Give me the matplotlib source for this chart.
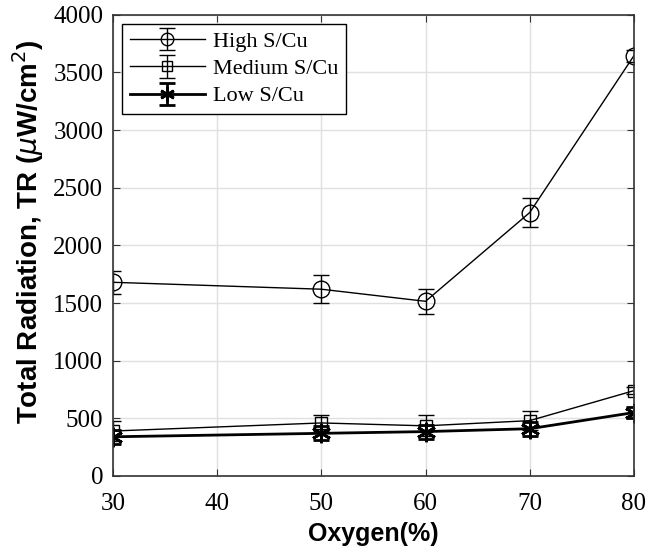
import matplotlib.pyplot as plt

# oxygen levels and total radiation (uW/cm^2)
oxygen = [30, 50, 60, 70, 80]
high = [1680, 1620, 1515, 2285, 3645]
high_err = [100, 120, 110, 125, 50]
medium = [390, 460, 435, 480, 740]
medium_err = [90, 70, 90, 80, 30]
low = [340, 370, 385, 410, 550]
low_err = [60, 60, 60, 60, 50]

fig = plt.figure(figsize=(6.61, 5.49), dpi=100)
ax = fig.add_axes([0.171, 0.133, 0.788, 0.840])

ax.errorbar(oxygen, high, yerr=high_err, color='black', lw=1, marker='o',
            ms=12, mfc='none', mew=1, capsize=6, elinewidth=1, label='High S/Cu')
ax.errorbar(oxygen, medium, yerr=medium_err, color='black', lw=1, marker='s',
            ms=9, mfc='none', mew=1, capsize=6, elinewidth=1, label='Medium S/Cu')
ax.errorbar(oxygen, low, yerr=low_err, color='black', lw=2, marker=(6, 2, 0),
            ms=14, mew=2, capsize=6, elinewidth=2, capthick=2, label='Low S/Cu')

ax.set_xlim(30, 80)
ax.set_ylim(0, 4000)
ax.set_xticks([30, 40, 50, 60, 70, 80])
ax.set_yticks(range(0, 4001, 500))
ax.grid(True, color='#e0e0e0', lw=1)
ax.set_axisbelow(True)
ax.tick_params(direction='in', top=True, right=True, length=5, color='#333333',
               labelsize=18)
ax.tick_params(axis='x', pad=12)
ax.tick_params(axis='y', pad=7)
for lab in ax.get_xticklabels() + ax.get_yticklabels():
    lab.set_fontfamily('Liberation Serif')
for s in ax.spines.values():
    s.set_color('#333333')
    s.set_linewidth(1.2)

ax.set_xlabel('Oxygen(%)', fontsize=18, fontweight='bold',
              family='Liberation Sans', labelpad=5)
ax.set_ylabel(r'Total Radiation, TR ($\mu$W/cm$^2$)', fontsize=20,
              fontweight='bold', family='Liberation Sans')
ax.yaxis.set_label_coords(-0.128, 0.53)

leg = ax.legend(loc='upper left', prop={'family': 'Liberation Serif', 'size': 16},
                fancybox=False, edgecolor='black', framealpha=1,
                handlelength=3.4, handletextpad=0.35, borderpad=0.35,
                labelspacing=0.3, borderaxespad=0.4, markerscale=0.75)
leg.get_frame().set_linewidth(1)

fig.savefig('out.png', dpi=100)
